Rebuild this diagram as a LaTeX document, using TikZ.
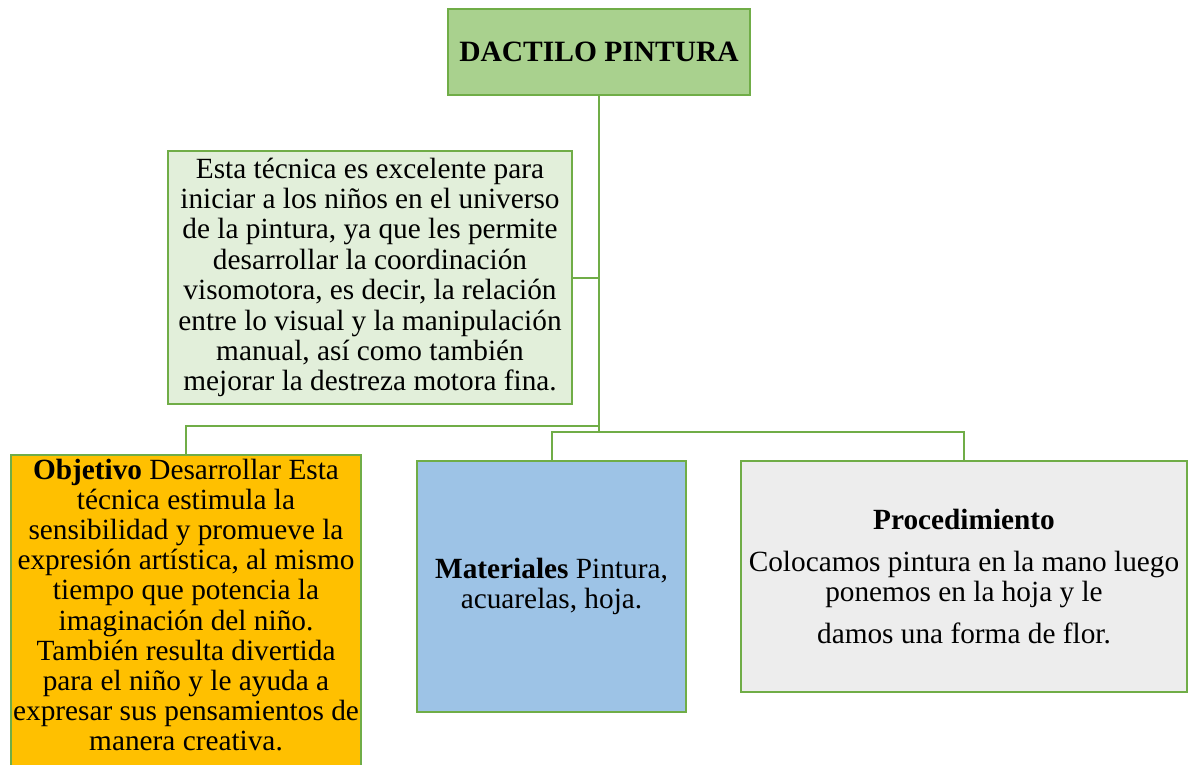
\documentclass[tikz,border=0pt]{standalone}
\usepackage{fontspec}
\setmainfont{Liberation Serif}
\definecolor{gborder}{HTML}{70AD47}
\definecolor{gtop}{HTML}{A9D18E}
\definecolor{gdesc}{HTML}{E2EFDA}
\definecolor{gold}{HTML}{FFC000}
\definecolor{blu}{HTML}{9DC3E6}
\definecolor{gry}{HTML}{EDEDED}
\begin{document}
\begin{tikzpicture}[x=1pt,y=-1pt,
  boxstyle/.style={draw=gborder,line width=2.3pt,rectangle,align=center,inner sep=0pt,
    font=\fontsize{29.3}{30.4}\selectfont},
  conn/.style={draw=gborder,line width=2pt}]
\useasboundingbox (0,0) rectangle (1189,764);
\node[boxstyle,fill=gtop,minimum width=302pt,minimum height=86pt,font=\fontsize{29.5}{32}\selectfont\bfseries] (top) at (599,52) {DACTILO PINTURA};
\node[boxstyle,fill=gdesc,minimum width=404pt,minimum height=253pt] (desc) at (370,277.5)
 {Esta técnica es excelente para\\iniciar a los niños en el universo\\de la pintura, ya que les permite\\desarrollar la coordinación\\visomotora, es decir, la relación\\entre lo visual y la manipulación\\manual, así como también\\mejorar la destreza motora fina.};
\node[boxstyle,fill=gold,minimum width=350pt,minimum height=318pt,anchor=north] (obj) at (186,454) {};
\node[align=center,font=\fontsize{29.3}{30.1}\selectfont,anchor=north,inner sep=0pt] (objtxt) at (186,459)
 {\textbf{Objetivo} Desarrollar Esta\\técnica estimula la\\sensibilidad y promueve la\\expresión artística, al mismo\\tiempo que potencia la\\imaginación del niño.\\También resulta divertida\\para el niño y le ayuda a\\expresar sus pensamientos de\\manera creativa.};
\node[boxstyle,fill=blu,minimum width=269pt,minimum height=251pt] (mat) at (551.5,586.5)
 {\textbf{Materiales} Pintura,\\acuarelas, hoja.};
\node[boxstyle,fill=gry,minimum width=446pt,minimum height=231pt] (proc) at (964,576.5)
 {\textbf{Procedimiento}\\[11pt]Colocamos pintura en la mano luego\\ponemos en la hoja y le\\[11pt]damos una forma de flor.};
\coordinate (jl) at (599,426);
\coordinate (jr) at (599,432);
\draw[conn] (top.south) -- (jr);
\draw[conn] (desc.east) -- (desc.east -| top.south);
\draw[conn] (jl) -| (obj.north);
\draw[conn] (mat.north) |- (jr) -| (proc.north);
\end{tikzpicture}
\end{document}
